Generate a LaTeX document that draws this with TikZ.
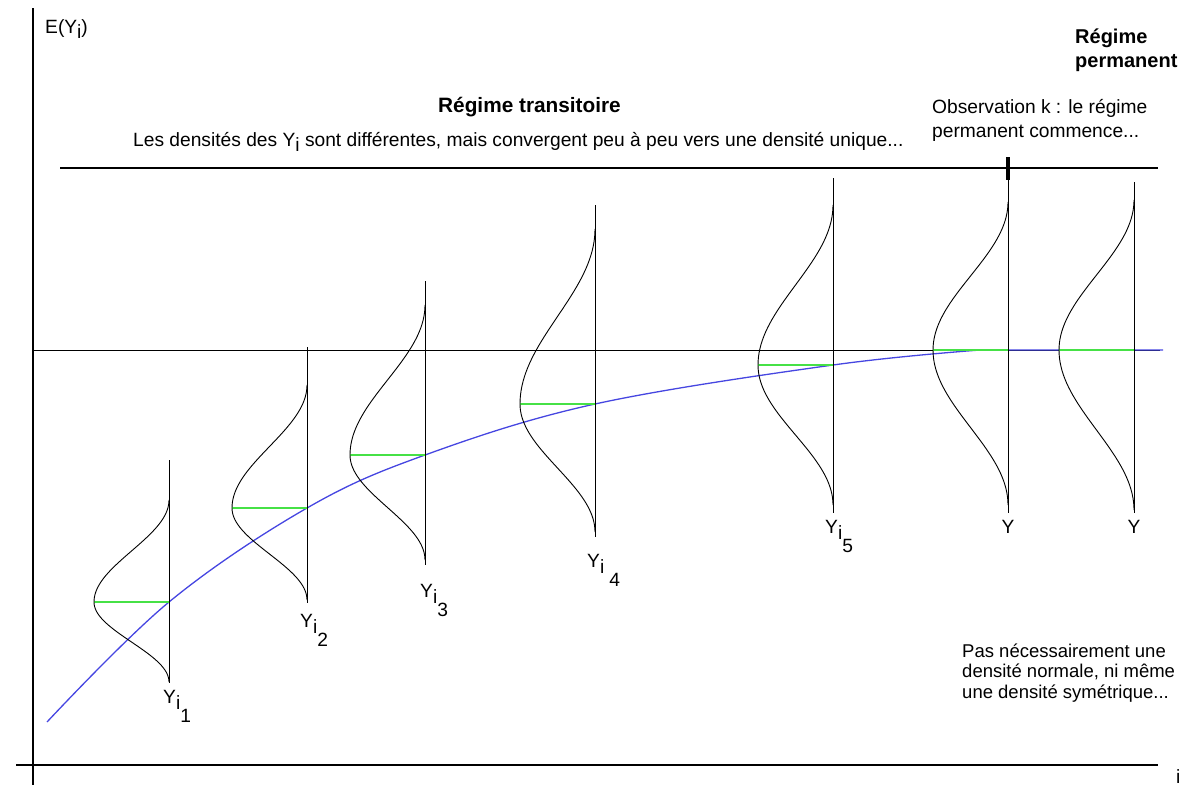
\documentclass[tikz,border=0pt]{standalone}
\usepackage{fontspec}
\setmainfont{Liberation Sans}
\usetikzlibrary{positioning}

\definecolor{bleuc}{RGB}{70,70,225}
\definecolor{vertc}{RGB}{70,225,70}

% indices abaissés
\newcommand{\ind}[1]{\raisebox{-5pt}{#1}}
\newcommand{\Yi}[2][0pt]{Y\raisebox{-6pt}{i}\hspace{#1}\raisebox{-19pt}{#2}}

\begin{document}
\begin{tikzpicture}[x=1pt, y=-1pt,
    txt/.style={font=\fontsize{19.2}{23.5}\selectfont, inner sep=0pt},
    titre/.style={font=\bfseries\fontsize{20.8}{24}\selectfont, inner sep=0pt},
    axe/.style={line width=1.4pt},
    densite/.style={line width=0.9pt},
    moyenne/.style={color=vertc, line width=1.8pt},
    courbe/.style={color=bleuc, line width=1.3pt}]
    \useasboundingbox (0,0) rectangle (1182,785);
    % axes
    \draw[axe] (33,8) -- (33,785);
    \draw[axe] (16,765) -- (1158,765);
    \draw[axe] (60,168) -- (1158,168);
    \draw[line width=1pt] (34,350) -- (1160,350);
    \draw[line width=4pt] (1008,157) -- (1008,180);
    % courbe des moyennes
    \draw[courbe] plot[smooth, tension=0.6] coordinates
        {(47,722) (169,602) (307,508) (425,455) (595,404) (833,365) (980,350)} -- (1163,350);
    % densités
    \foreach \xd/\yh/\ym/\yb/\du/\dl in {169/460/602/683/102/80, 307/347/508/603/123/92,
        425/281/455/565/150/105, 595/205/404/537/175/128, 833/178/365/513/160/140,
        1008/180/350/513/148/155, 1134/182/350/513/150/160}{
        \draw[moyenne] (\xd-75,\ym) -- (\xd,\ym);
        \draw[densite] (\xd,\yh) -- (\xd,\yb);
        \draw[densite] plot[domain=180:0, samples=40, variable=\a]
            ({\xd-37.5*(1+cos(\a))}, {\ym-\du*(\a/180)})
            -- plot[domain=0:180, samples=40, variable=\a]
            ({\xd-37.5*(1+cos(\a))}, {\ym+\dl*(\a/180)});
    }
    % étiquettes
    \node[txt, anchor=base west] (y1) at (163,703) {\Yi{1}};
    \node[txt, anchor=base west] (y2) at (300,627) {\Yi{2}};
    \node[txt, anchor=base west] (y3) at (420,597) {\Yi{3}};
    \node[txt, anchor=base west] (y4) at (587,567) {\Yi[5pt]{4}};
    \node[txt, anchor=base west] (y5) at (825,533) {\Yi{5}};
    \node[txt, anchor=base] (y6) at (1008,533) {Y};
    \node[txt, anchor=base] (y7) at (1134,533) {Y};
    % textes
    \node[txt, anchor=base west] (eyi) at (45,33) {E(Y\ind{i})};
    \node[txt, anchor=base west] (iaxe) at (1176,783) {i};
    \node[titre, anchor=base west] (trans) at (438,112) {Régime transitoire};
    \node[txt, anchor=base west] (dens) at (133,146)
        {Les densités des Y\ind{i} sont différentes, mais convergent peu à peu vers une densité unique...};
    \node[titre, anchor=base west, align=left, font=\bfseries\fontsize{20}{24}\selectfont] (perm) at (1075,67)
        {Régime\\permanent};
    \node[txt, anchor=base west, align=left] (obs) at (932,137) {Observation k : le régime\\permanent commence...};
    \node[txt, anchor=base west, align=left, font=\fontsize{18.5}{20.5}\selectfont] (pas) at (962,698)
        {Pas nécessairement une\\densité normale, ni même\\une densité symétrique...};
\end{tikzpicture}
\end{document}
